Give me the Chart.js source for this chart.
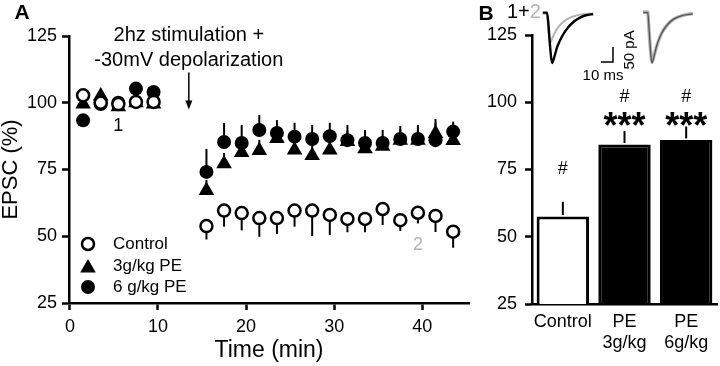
<!DOCTYPE html>
<html><head><meta charset="utf-8">
<script src="https://cdn.jsdelivr.net/npm/chart.js@4/dist/chart.umd.min.js"></script>
<style>
html,body{margin:0;padding:0;background:#fff;}
#wrap{position:relative;width:720px;height:366px;overflow:hidden;}
#a{position:absolute;left:0;top:0;}
#b{position:absolute;left:465px;top:0;}
</style></head><body>
<div id="wrap"><canvas id="a" width="478" height="366"></canvas><canvas id="b" width="255" height="366"></canvas></div>
<script>
// ---------- Panel A data ----------
const times = [1.5,3.5,5.5,7.5,9.5,15.5,17.5,19.5,21.5,23.5,25.5,27.5,29.5,31.5,33.5,35.5,37.5,39.5,41.5,43.5];
const control = [102.8,100,99.5,100.3,100.3,53.8,59.6,58.7,56.8,56.8,59.6,59.6,58,56.5,56.5,60.2,56,58.8,57.6,51.7];
const controlSem = [2,2,2,2,2,5,6,6.5,7,6,6,9.5,7.5,5,5,6,4,4,6,6];
const pe3 = [99.5,102.5,98.5,100,99.5,67.1,77.2,81.4,82.1,86.6,82.3,80.2,82.3,85.5,82.8,83.7,86,86,88.5,85.9];
const pe3Sem = [2,2,2,2,2,4,4,4,4,4,4,4,4,4,4,4,4,4,4,4];
const pe6 = [93.4,99.5,100,105.3,104,74.1,85.3,84.9,89.8,88.7,87.3,86.4,87.5,86,84.9,84.9,86.4,86.4,86,89.2];
const pe6Sem = [2,2,2,2,2,8.6,7.1,6.8,5.6,4.8,5.2,5.3,5,5.7,4.9,4.9,4.9,5.3,7.9,3.7];
const xTicksA = [0,10,20,30,40];
const yTicks = [25,50,75,100,125];
const legendNames = ['Control','3g/kg PE','6 g/kg PE'];

// ---------- Panel B data ----------
const groups = [['Control'],['PE','3g/kg'],['PE','6g/kg']];
const groupMeans = [57.5,84.3,86];
const groupSem = [5.5,5,5];
const groupSig = [['#',''],['#','***'],['#','***']];
// sample traces (ms, pA)
const trace1Black = [[9,0],[12.5,0],[13.5,-30],[15,-110],[16.7,-169],[18.5,-150],[21,-115],[25,-80],[30,-50],[35,-30],[40,-17],[45,-9],[51,-5]];
const trace1Gray  = [[9,-4],[12.5,-4],[13.3,-40],[15,-102],[17,-85],[20,-60],[25,-35],[30,-20],[35,-12],[42,-6],[51,-3]];
const trace2Black = [[92.5,0],[96.5,0],[97.5,-50],[99,-140],[100,-169],[101.5,-150],[104,-110],[108,-70],[113,-40],[118,-22],[125,-10],[134,-4]];
const trace2Gray  = [[92.5,2],[96.5,2],[97.3,-45],[99,-135],[100.2,-165],[102,-140],[104.5,-105],[108.5,-65],[113.5,-38],[119,-20],[126,-9],[134,-3]];
const scaleBar = [[57.5,-165],[67.5,-165],[67.5,-115]];

const FONT = "'Liberation Sans', Arial, Helvetica, sans-serif";
Chart.defaults.font.family = FONT;
Chart.defaults.color = '#000';
const GRAY = '#b3b3b3';

const pts = arr => times.map((t,i)=>({x:t,y:arr[i]}));

const errPluginA = {
  id:'errA',
  beforeDatasetsDraw(chart){
    const ctx=chart.ctx, xs=chart.scales.x, ys=chart.scales.y;
    ctx.save(); ctx.strokeStyle='#000'; ctx.lineWidth=2;
    chart.data.datasets.forEach(ds=>{
      ds.data.forEach((p,i)=>{
        const x=xs.getPixelForValue(p.x);
        ctx.beginPath();
        ctx.moveTo(x, ys.getPixelForValue(p.y));
        ctx.lineTo(x, ys.getPixelForValue(p.y + ds.errDir*ds.err[i]));
        ctx.stroke();
      });
    });
    ctx.restore();
  }
};

function drawMarker(ctx, style, x, y){
  ctx.save();
  if(style==='open'){
    ctx.beginPath(); ctx.arc(x,y,6,0,Math.PI*2);
    ctx.fillStyle='#fff'; ctx.fill(); ctx.lineWidth=2.5; ctx.strokeStyle='#000'; ctx.stroke();
  } else if(style==='tri'){
    const r=9;
    ctx.beginPath();
    ctx.moveTo(x, y-r);
    ctx.lineTo(x+r*Math.sin(Math.PI/3), y+r/2);
    ctx.lineTo(x-r*Math.sin(Math.PI/3), y+r/2);
    ctx.closePath(); ctx.fillStyle='#000'; ctx.fill();
  } else {
    ctx.beginPath(); ctx.arc(x,y,7,0,Math.PI*2); ctx.fillStyle='#000'; ctx.fill();
  }
  ctx.restore();
}

const textPluginA = {
  id:'textA',
  afterDraw(chart){
    const ctx=chart.ctx, xs=chart.scales.x, ys=chart.scales.y;
    ctx.save();
    ctx.fillStyle='#000';
    ctx.font='bold 21px '+FONT; ctx.textAlign='center'; ctx.textBaseline='middle';
    ctx.fillText('A', 22, 13);
    const ax = xs.getPixelForValue(13.5);
    ctx.font='20px '+FONT;
    ctx.fillText('2hz stimulation +', ax, ys.getPixelForValue(125.3));
    ctx.fillText('-30mV depolarization', ax, ys.getPixelForValue(116));
    // arrow
    const y1=ys.getPixelForValue(111.3), y2=ys.getPixelForValue(97.5);
    ctx.strokeStyle='#000'; ctx.lineWidth=1.5;
    ctx.beginPath(); ctx.moveTo(ax,y1); ctx.lineTo(ax,y2-8); ctx.stroke();
    ctx.beginPath(); ctx.moveTo(ax-3.5,y2-9); ctx.lineTo(ax+3.5,y2-9); ctx.lineTo(ax,y2); ctx.closePath(); ctx.fill();
    ctx.font='18px '+FONT;
    ctx.fillText('1', xs.getPixelForValue(5.5), ys.getPixelForValue(91.1));
    ctx.fillStyle=GRAY;
    ctx.fillText('2', xs.getPixelForValue(39.5), ys.getPixelForValue(46.7));
    // legend
    const styles=['open','tri','fill'];
    const ly=[244,266,287];
    ctx.font='17px '+FONT; ctx.textAlign='left'; ctx.fillStyle='#000';
    legendNames.forEach((n,i)=>{
      drawMarker(ctx, styles[i], 88, ly[i] + (styles[i]==='tri'?2:0));
      ctx.fillStyle='#000';
      ctx.fillText(n, 113, ly[i]);
    });
    ctx.restore();
  }
};

const axisCommon = {
  border:{display:true,color:'#000',width:2.5},
  grid:{drawOnChartArea:false, drawTicks:true, tickLength:7, tickWidth:2.5, tickColor:'#000'},
};

new Chart(document.getElementById('a'), {
  type:'scatter',
  data:{datasets:[
    {label:'Control', data:pts(control), err:controlSem, errDir:-1, pointStyle:'circle', pointRadius:6, pointBackgroundColor:'#fff', pointBorderColor:'#000', pointBorderWidth:2.5, showLine:false},
    {label:'6 g/kg PE', data:pts(pe6), err:pe6Sem, errDir:1, pointStyle:'circle', pointRadius:7, pointBackgroundColor:'#000', pointBorderColor:'#000', pointBorderWidth:0, showLine:false},
    {label:'3g/kg PE', data:pts(pe3), err:pe3Sem, errDir:1, pointStyle:'triangle', pointRadius:9, pointBackgroundColor:'#000', pointBorderColor:'#000', pointBorderWidth:0, showLine:false},
  ]},
  options:{
    responsive:false, animation:false, events:[],
    layout:{padding:{left:0,right:4,top:36,bottom:0}},
    plugins:{legend:{display:false}, tooltip:{enabled:false}},
    scales:{
      x:{type:'linear', min:-0.1, max:45.3, ...axisCommon,
         afterBuildTicks(s){ s.ticks = xTicksA.map(v=>({value:v})); },
         ticks:{font:{size:18}, color:'#000', padding:6},
         title:{display:true, text:'Time (min)', font:{size:23}, color:'#000', padding:{top:0,bottom:2}},
         afterFit(s){ s.height = 63; }},
      y:{type:'linear', min:25, max:125, ...axisCommon,
         afterBuildTicks(s){ s.ticks = yTicks.map(v=>({value:v})); },
         ticks:{font:{size:18}, color:'#000', padding:5},
         title:{display:true, text:'EPSC (%)', font:{size:22, lineHeight:1.0}, color:'#000', padding:0},
         afterFit(s){ s.width = 69; }}
    }
  },
  plugins:[errPluginA, textPluginA]
});

// ---------- Panel B ----------
const plotB = {
  id:'plotB',
  afterDatasetsDraw(chart){
    const ctx=chart.ctx, xs=chart.scales.x, ys=chart.scales.y;
    ctx.save();
    ctx.strokeStyle='#000'; ctx.lineWidth=2;
    groupMeans.forEach((m,i)=>{
      const x=xs.getPixelForValue(i);
      ctx.beginPath(); ctx.moveTo(x, ys.getPixelForValue(m)-1.5); ctx.lineTo(x, ys.getPixelForValue(m+groupSem[i])); ctx.stroke();
    });
    ctx.fillStyle='#000'; ctx.textAlign='center';
    groupSig.forEach((s,i)=>{
      const x=xs.getPixelForValue(i);
      ctx.font='18px '+FONT; ctx.textBaseline='middle';
      ctx.fillText(s[0], x, i===0 ? ys.getPixelForValue(75) : ys.getPixelForValue(101.8));
      if(s[1]){
        ctx.font='bold 36px '+FONT; ctx.textBaseline='alphabetic';
        ctx.fillText(s[1], x, ys.getPixelForValue(86.6));
      }
    });
    // inset labels
    const tx=chart.scales.tx, ty=chart.scales.ty;
    ctx.font='bold 21px '+FONT; ctx.textBaseline='middle';
    ctx.fillText('B', 21, 14);
    ctx.font='20px '+FONT; ctx.textAlign='left';
    ctx.fillText('1+', 42, 12);
    const w=ctx.measureText('1+').width;
    ctx.fillStyle=GRAY; ctx.fillText('2', 42+w, 12);
    ctx.fillStyle='#000'; ctx.font='15px '+FONT; ctx.textAlign='center';
    ctx.fillText('10 ms', tx.getPixelForValue(59.2), ty.getPixelForValue(-212));
    ctx.save();
    ctx.translate(tx.getPixelForValue(81.7), ty.getPixelForValue(-125));
    ctx.rotate(-Math.PI/2);
    ctx.fillText('50 pA', 0, 0);
    ctx.restore();
    ctx.restore();
  }
};

const tr = (arr, color, w) => ({type:'line', xAxisID:'tx', yAxisID:'ty', data:arr.map(p=>({x:p[0],y:p[1]})),
  borderColor:color, borderWidth:w, pointRadius:0, cubicInterpolationMode:'monotone', clip:false, fill:false});

new Chart(document.getElementById('b'), {
  type:'bar',
  data:{labels:groups, datasets:[
    {type:'bar', data:groupMeans, backgroundColor:['#fff','#000','#000'], borderColor:'#000', borderWidth:3, borderSkipped:'bottom',
     grouped:false, barPercentage:0.85, categoryPercentage:1, xAxisID:'x', yAxisID:'y'},
    tr(trace1Black, '#000', 2.4),
    tr(trace1Gray, GRAY, 2),
    tr(trace2Black, '#555', 1.3),
    tr(trace2Gray, GRAY, 3.4),
    {type:'line', xAxisID:'tx', yAxisID:'ty', data:scaleBar.map(p=>({x:p[0],y:p[1]})), borderColor:'#000', borderWidth:1.5, pointRadius:0, tension:0, clip:false, fill:false},
  ]},
  options:{
    responsive:false, animation:false, events:[],
    layout:{padding:{left:0,right:3,top:35,bottom:0}},
    plugins:{legend:{display:false}, tooltip:{enabled:false}},
    scales:{
      x:{type:'category', offset:true, border:{display:true,color:'#000',width:2.5},
         grid:{drawOnChartArea:false, drawTicks:false},
         ticks:{font:{size:18}, color:'#000', padding:7, maxRotation:0, autoSkip:false},
         afterFit(s){ s.height = 62; }},
      y:{type:'linear', min:25, max:125, ...axisCommon,
         afterBuildTicks(s){ s.ticks = yTicks.map(v=>({value:v})); },
         ticks:{font:{size:18}, color:'#000', padding:8},
         afterFit(s){ s.width = 67; }},
      tx:{type:'linear', display:false, offset:false, grid:{offset:false}, min:0, max:154.2, position:'bottom'},
      ty:{type:'linear', display:false, offset:false, beginAtZero:false, min:-975, max:-75, position:'left'}
    }
  },
  plugins:[plotB]
});
</script>
</body></html>
